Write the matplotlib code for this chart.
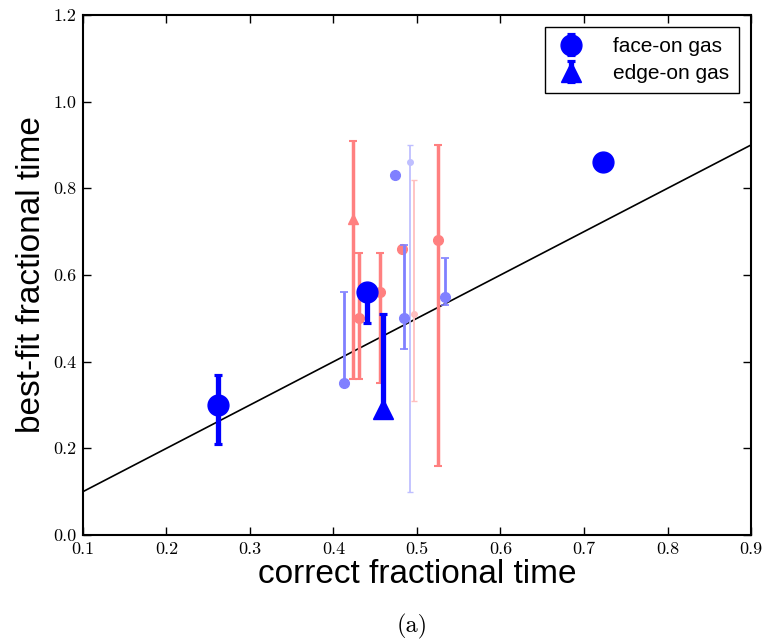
import matplotlib
matplotlib.use("Agg")
import matplotlib.pyplot as plt
import numpy as np

# Best-fit vs. correct fractional time
face_x = [0.262, 0.440, 0.723]
face_y = [0.30, 0.56, 0.86]
face_lo = [0.09, 0.07, 0.0]
face_hi = [0.07, 0.0, 0.0]

edge_x = [0.459]
edge_y = [0.29]
edge_lo = [0.0]
edge_hi = [0.22]

lblue_x = [0.412, 0.485, 0.534, 0.474]
lblue_y = [0.35, 0.50, 0.55, 0.83]
lblue_lo = [0.0, 0.07, 0.02, 0.0]
lblue_hi = [0.21, 0.17, 0.09, 0.0]

fblue_x = [0.492]
fblue_y = [0.86]
fblue_lo = [0.76]
fblue_hi = [0.04]

red_x = [0.431, 0.456, 0.482, 0.525]
red_y = [0.50, 0.56, 0.66, 0.68]
red_lo = [0.14, 0.21, 0.0, 0.52]
red_hi = [0.15, 0.09, 0.0, 0.22]

redtri_x = [0.423]
redtri_y = [0.73]
redtri_lo = [0.37]
redtri_hi = [0.18]

fred_x = [0.497]
fred_y = [0.51]
fred_lo = [0.20]
fred_hi = [0.31]

xticks = [0.1, 0.2, 0.3, 0.4, 0.5, 0.6, 0.7, 0.8, 0.9]
yticks = [0.0, 0.2, 0.4, 0.6, 0.8, 1.0, 1.2]

fig = plt.figure(figsize=(7.64, 6.43), dpi=100)
ax = fig.add_axes([0.1086, 0.168, 0.8744, 0.8087])

# one-to-one reference line
ax.plot([0.1, 0.9], [0.1, 0.9], color="black", lw=1.2, zorder=2)

def eb(x, y, lo, hi, color, marker, ms, lw, cap, z):
    return ax.errorbar(x, y, yerr=[lo, hi], fmt=marker, color=color, ecolor=color,
                       ms=ms, mec=color, elinewidth=lw, capsize=cap,
                       capthick=max(lw * 0.6, 1.0), zorder=z)

eb(fblue_x, fblue_y, fblue_lo, fblue_hi, "#bfbfff", "o", 4, 1.3, 2.5, 3)
eb(fred_x, fred_y, fred_lo, fred_hi, "#ffbfbf", "o", 4, 1.3, 2.5, 3)
eb(red_x, red_y, red_lo, red_hi, "#ff8080", "o", 7, 2.5, 2.6, 4)
eb(redtri_x, redtri_y, redtri_lo, redtri_hi, "#ff8080", "^", 7, 2.5, 2.6, 4)
eb(lblue_x, lblue_y, lblue_lo, lblue_hi, "#8080ff", "o", 7, 2.0, 2.6, 5)
h_face = eb(face_x, face_y, face_lo, face_hi, "#0000ff", "o", 15, 3.8, 3.2, 6)
h_edge = eb(edge_x, edge_y, edge_lo, edge_hi, "#0000ff", "^", 15, 3.8, 3.2, 6)

ax.set_xlim(0.1, 0.9)
ax.set_ylim(0.0, 1.2)
ax.set_xticks(xticks)
ax.set_yticks(yticks)
ax.set_xticklabels([f"{v:.1f}" for v in xticks], fontfamily="cmr10", fontsize=13)
ax.set_yticklabels([f"{v:.1f}" for v in yticks], fontfamily="cmr10", fontsize=13)
ax.tick_params(direction="in", top=True, right=True, length=6, width=1.0, pad=5)
for s in ax.spines.values():
    s.set_linewidth(1.5)

ax.set_xlabel("correct fractional time", fontfamily="Liberation Sans", fontsize=24, labelpad=1)
ax.set_ylabel("best-fit fractional time", fontfamily="Liberation Sans", fontsize=24, labelpad=4)

leg = ax.legend([h_face, h_edge], ["face-on gas", "edge-on gas"], loc="upper right",
                prop={"family": "Liberation Sans", "size": 15}, fancybox=False,
                edgecolor="black", framealpha=1, numpoints=1, handlelength=1.6,
                borderpad=0.45, labelspacing=0.4, handletextpad=1.2,
                borderaxespad=0.6)
leg.get_frame().set_linewidth(1.0)

fig.text(0.54, 0.017, "(a)", fontfamily="cmr10", fontsize=17.5, ha="center", va="baseline")

fig.savefig("out.png", dpi=100)
